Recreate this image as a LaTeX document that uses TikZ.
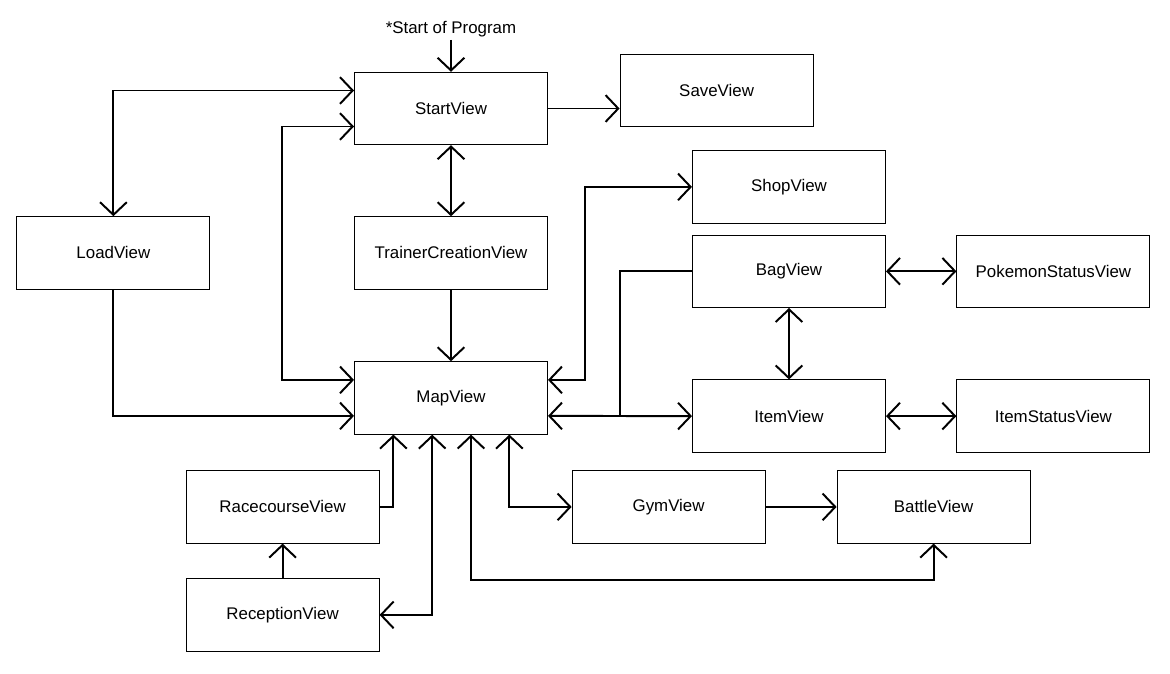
\documentclass[tikz,border=0pt]{standalone}
\usepackage{fontspec}
\setmainfont{Liberation Sans}
\usetikzlibrary{arrows.meta, positioning}

\begin{document}
\begin{tikzpicture}[on grid, node distance=3.6cm,
		view/.style={draw, line width=0.7pt, minimum width=4.825cm, minimum height=1.81cm, font=\fontsize{12}{14}\selectfont},
		link/.style={line width=1.4pt},
		>={Straight Barb[length=9pt,width=19pt]}]
		\useasboundingbox (-11.275,-14.1125) rectangle (17.975,2.7125);
		% top
		\node[view] (StartView) {StartView};
		\node[above = 1.99cm of StartView, inner sep=2pt, font=\fontsize{12}{14}\selectfont] (start) {*Start of Program};
		\node[view, above right = 0.445cm and 6.64cm of StartView] (SaveView) {SaveView};
		\node[view, below = 3.61cm of StartView] (TrainerCreationView) {TrainerCreationView};
		\node[view, left = 8.44cm of TrainerCreationView] (LoadView) {LoadView};
		\node[view, below = 3.625cm of TrainerCreationView] (MapView) {MapView};
		
		% right
		\node[view, below right = 1.96cm and 8.45cm of StartView] (ShopView) {ShopView};
		\node[view, below = 2.11cm of ShopView] (BagView) {BagView};
		\node[view, below = 3.62cm of BagView] (ItemView) {ItemView};
		\node[view, right = 6.61cm of BagView] (PokemonStatusView) {PokemonStatusView};
		\node[view, right = 6.61cm of ItemView] (ItemStatusView) {ItemStatusView};
		
		% bottom
		\node[view, below right = 2.725cm and 5.44cm of MapView] (GymView) {GymView};
		\node[view, right = 6.625cm of GymView] (BattleView) {BattleView};
		\node[view, below left = 2.725cm and 4.21cm of MapView] (RacecourseView) {RacecourseView};
		\node[view, below = 2.7cm of RacecourseView] (ReceptionView) {ReceptionView};
		
		% top
		\draw[link, ->] (start) -- (StartView);
		\draw[link, ->] (StartView) -- (StartView.east -| SaveView.west);
		\draw[link, <->] (StartView) -- (TrainerCreationView);
		\draw[link, ->] (TrainerCreationView) -- (MapView);
		\draw[link, <->] (LoadView.north) |- ([yshift=0.45cm]StartView.west);
		\draw[link, ->] (LoadView.south) |- ([yshift=-0.45cm]MapView.west);
		\draw[link, <->] ([yshift=-0.45cm]StartView.west) -| ([xshift=-1.8cm,yshift=0.45cm]MapView.west) -- ([yshift=0.45cm]MapView.west);
		
		% right
		\draw[link, <->] ([yshift=0.45cm]MapView.east) -- ++(0.925cm,0) |- (ShopView.west);
		\draw[link, <->] ([yshift=-0.45cm]MapView.east) -- (ItemView.west);
		\draw[link] (BagView.west) -| ([xshift=-1.8cm]ItemView.west);
		\draw[link, <->] (BagView) -- (PokemonStatusView);
		\draw[link, <->] (BagView) -- (ItemView);
		\draw[link, <->] (ItemView) -- (ItemStatusView);
		
		% bottom
		\draw[link, <->] ([xshift=1.46cm]MapView.south) |- (GymView.west);
		\draw[link, ->] (GymView) -- (BattleView);
		\draw[link, <->] ([xshift=0.5cm]MapView.south) |- ([yshift=-0.9cm]BattleView.south) -- (BattleView.south);
		\draw[link, ->] (RacecourseView.east) -| ([xshift=-1.44cm]MapView.south);
		\draw[link, <->] ([xshift=-0.47cm]MapView.south) |- (ReceptionView.east);
		\draw[link, ->] (ReceptionView) -- (RacecourseView);
\end{tikzpicture}
\end{document}
